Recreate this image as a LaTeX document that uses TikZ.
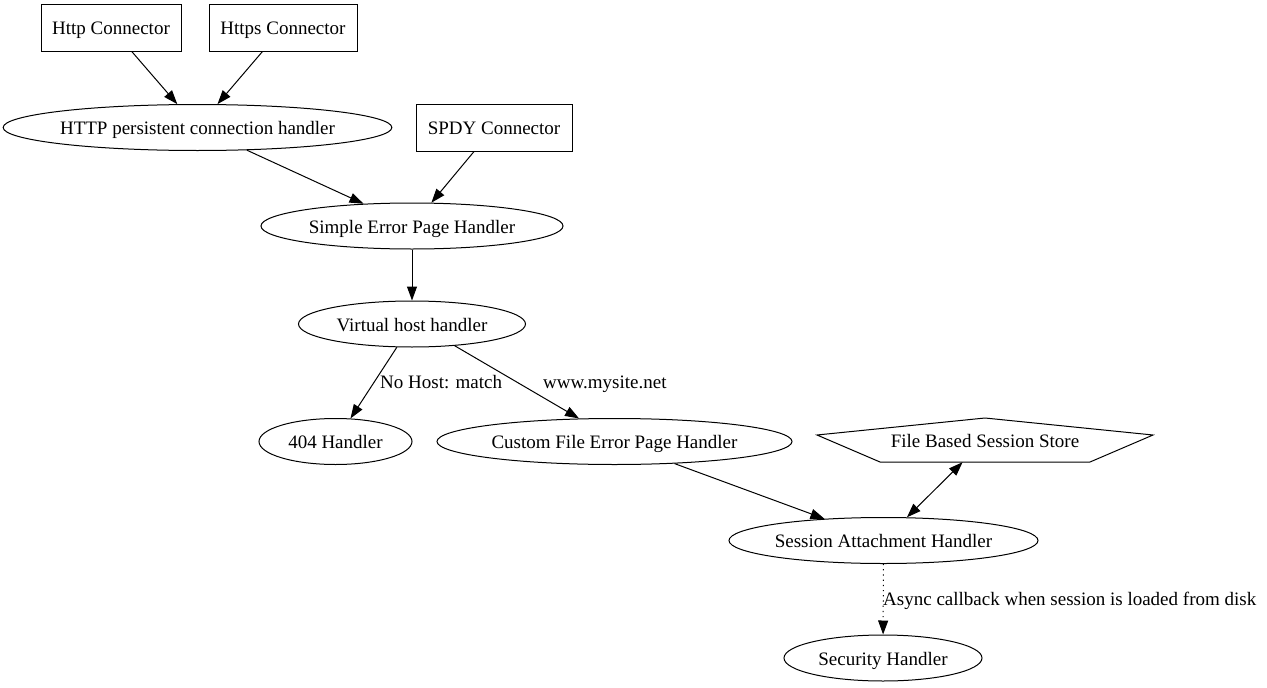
\documentclass[tikz,border=0pt]{standalone}
\usepackage{fontspec}
\setmainfont{Liberation Serif}
\usetikzlibrary{shapes.geometric,arrows.meta}
\begin{document}
\begin{tikzpicture}[x=1pt,y=-1pt,
  every node/.style={font=\fontsize{19}{22}\selectfont, inner sep=0pt, text height=14pt, text depth=0pt},
  boxn/.style={draw, line width=1pt, rectangle, minimum height=47pt},
  elln/.style={draw, line width=1pt, ellipse, minimum height=46pt},
  conn/.style={line width=1pt, -{Triangle[length=14pt,width=10pt]}},
  lbl/.style={anchor=west}
]
\useasboundingbox (0,0) rectangle (1267,688);
\node[boxn, minimum width=140pt] (http) at (111,27.5) {Http Connector};
\node[boxn, minimum width=148pt] (https) at (283,27.5) {Https Connector};
\node[elln, minimum width=385pt] (persist) at (197.5,127.5) {HTTP persistent connection handler};
\node[boxn, minimum width=156pt] (spdy) at (494,127.5) {SPDY Connector};
\node[elln, minimum width=302pt] (simple) at (412,226) {Simple Error Page Handler};
\node[elln, minimum width=227pt] (vhost) at (412,324) {Virtual host handler};
\node[elln, minimum width=153pt] (h404) at (335.5,441.5) {404 Handler};
\node[elln, minimum width=355pt] (custom) at (614.5,441.5) {Custom File Error Page Handler};
\node[minimum width=200pt, minimum height=44pt] (store) at (985,440) {File Based Session Store};
\draw[line width=1pt] (985,418) -- (1153,435) -- (1090,462) -- (880,462) -- (817,435) -- cycle;
\node[elln, minimum width=309pt] (session) at (883.5,540.5) {Session Attachment Handler};
\node[elln, minimum width=198pt] (security) at (883,658) {Security Handler};

\draw[conn] (http) -- (persist);
\draw[conn] (https) -- (persist);
\draw[conn] (persist) -- (simple);
\draw[conn] (spdy) -- (simple);
\draw[conn] (simple) -- (vhost);
\draw[conn] (vhost) -- (h404);
\draw[conn] (vhost.-27) -- (custom.147);
\draw[conn] (custom) -- (session);
\draw[line width=1pt, {Triangle[length=14pt,width=10pt]}-{Triangle[length=14pt,width=10pt]}] (store) -- (session);
\draw[conn, dash pattern=on 1.2pt off 4pt] (session) -- (security);

\node[lbl] (l1) at (380,381) {No Host: match};
\node[lbl] (l2) at (543,381) {www.mysite.net};
\node[lbl] (l3) at (883,598) {Async callback when session is loaded from disk};
\end{tikzpicture}
\end{document}
